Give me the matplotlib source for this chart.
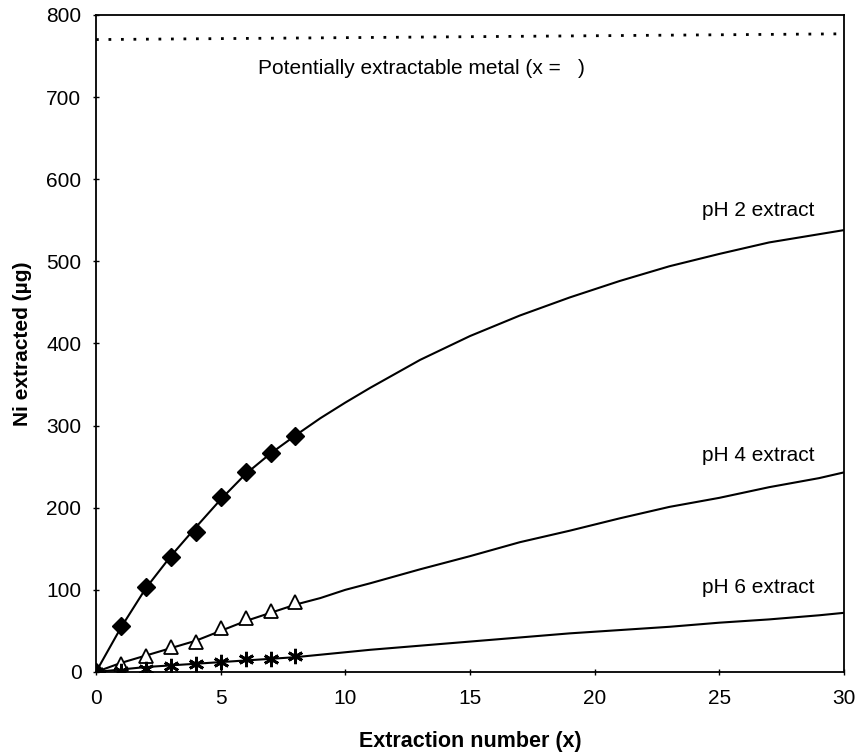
import numpy as np
import matplotlib.pyplot as plt

plt.rcParams['font.family'] = ['Liberation Sans', 'DejaVu Sans']

# Measured points (extractions 0-8)
x_pts = [0, 1, 2, 3, 4, 5, 6, 7, 8]
ph2_pts = [0, 56, 103, 140, 171, 213, 244, 267, 287]
ph4_pts = [0, 10, 19, 30, 36, 53, 66, 74, 85]
ph6_pts = [0, 1, 4, 7, 10, 12, 16, 16, 19]

# Model curves
x_fit = [0, 1, 2, 3, 4, 5, 6, 7, 8, 9, 10, 11, 13, 15, 17, 19, 21, 23, 25, 27, 29, 30]
ph2_fit = [0, 54, 102, 141, 176, 210, 241, 266, 288, 309, 328, 346, 380, 409, 434, 456, 476, 494, 509, 523, 533, 538]
ph4_fit = [0, 11, 20, 29, 38, 50, 62, 72, 82, 90, 100, 108, 125, 141, 158, 172, 187, 201, 212, 225, 236, 243]
ph6_fit = [0, 3, 6, 8, 10, 12, 14, 16, 18, 21, 24, 27, 32, 37, 42, 47, 51, 55, 60, 64, 69, 72]

# Potentially extractable metal (x = inf)
x_inf = [0, 30]
y_inf = [770, 777]

fig = plt.figure(figsize=(8.64, 7.54), dpi=100)
ax = fig.add_axes([0.1111, 0.1088, 0.8657, 0.8714])

ax.plot(x_fit, ph2_fit, color='black', lw=1.5)
ax.plot(x_fit, ph4_fit, color='black', lw=1.5)
ax.plot(x_fit, ph6_fit, color='black', lw=1.5)

ax.plot(x_pts, ph2_pts, linestyle='none', marker='D', ms=9.5, color='black')
ax.plot(x_pts, ph4_pts, linestyle='none', marker='^', ms=10, mfc='white', mec='black', mew=1.3)
ax.plot(x_pts, ph6_pts, linestyle='none', marker=(6, 2, 0), ms=11, color='black', mew=2)

ax.plot(x_inf, y_inf, color='black', lw=2, linestyle=(0, (1, 3.5)))

ax.text(6.5, 735, 'Potentially extractable metal (x =   )', fontsize=15, va='center')
ax.text(28.8, 562, 'pH 2 extract', fontsize=15, ha='right', va='center')
ax.text(28.8, 264, 'pH 4 extract', fontsize=15, ha='right', va='center')
ax.text(28.8, 103, 'pH 6 extract', fontsize=15, ha='right', va='center')

ax.set_xlim(0, 30)
ax.set_ylim(0, 800)
ax.set_xticks([0, 5, 10, 15, 20, 25, 30])
ax.set_yticks(range(0, 801, 100))
ax.tick_params(labelsize=15, length=5, width=1, direction='inout')
ax.tick_params(axis='y', pad=8)
ax.tick_params(axis='x', pad=10)
for s in ax.spines.values():
    s.set_linewidth(1.3)

ax.set_xlabel('Extraction number (x)', fontsize=15.5, fontweight='bold', labelpad=16)
ax.set_ylabel('Ni extracted (µg)', fontsize=15, fontweight='bold', labelpad=10)

fig.savefig('out.png', dpi=100)
